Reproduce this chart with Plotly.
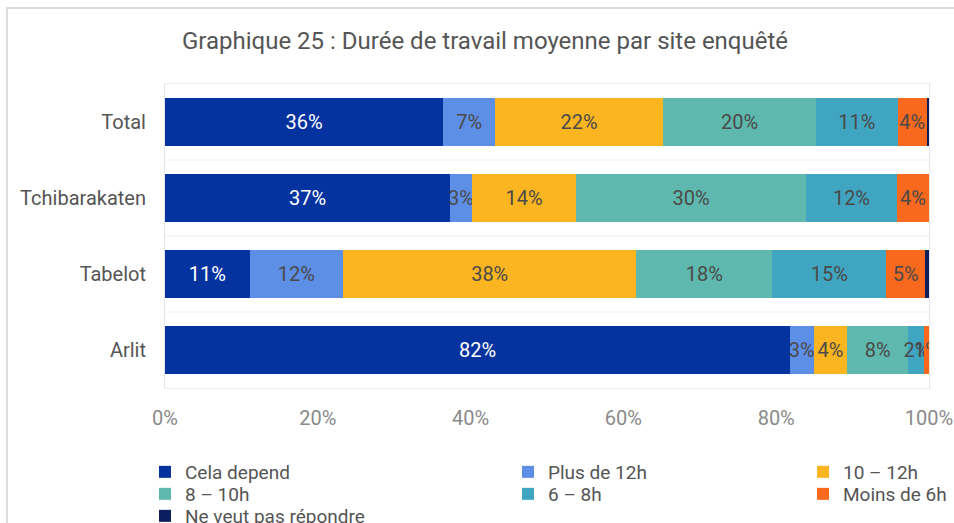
import plotly.graph_objects as go

sites = ["Total", "Tchibarakaten", "Tabelot", "Arlit"]
series_names = ["Cela depend", "Plus de 12h", "10 – 12h", "8 – 10h", "6 – 8h", "Moins de 6h", "Ne veut pas répondre"]

cela_depend = [36.4, 37.3, 11.1, 81.8]
plus_12h = [6.8, 2.9, 12.2, 3.1]
h10_12 = [22.0, 13.6, 38.4, 4.4]
h8_10 = [20.0, 30.1, 17.8, 8.0]
h6_8 = [10.7, 11.9, 14.9, 2.1]
moins_6h = [3.8, 4.2, 5.1, 0.6]
ne_veut_pas = [0.3, 0.0, 0.5, 0.0]

x_ticks = [0, 20, 40, 60, 80, 100]
x_tick_labels = ["0%", "20%", "40%", "60%", "80%", "100%"]

colors = ["#0433a0", "#5e8fe6", "#fbb520", "#5fb8ad", "#40a5c1", "#f8691d", "#0b1f5e"]
text_colors = ["#ffffff", "#4a4a4a", "#4a4a4a", "#4a4a4a", "#4a4a4a", "#4a4a4a", "#ffffff"]

all_values = [cela_depend, plus_12h, h10_12, h8_10, h6_8, moins_6h, ne_veut_pas]

FONT = "Roboto"
W, H = 954, 523
L, R, T, B = 165, 25, 84, 135

# legend slot (pixel) for each series: marker-left x, row centre y
legend_slots = [(159, 472), (522, 472), (817, 472), (159, 494), (522, 494), (817, 494), (159, 516)]

fig = go.Figure()
layout_legends = {}
for i, (name, vals, col, tcol) in enumerate(zip(series_names, all_values, colors, text_colors)):
    labels = [f"{round(v)}%" if v >= 0.55 else "" for v in vals]
    lg = "legend" if i == 0 else f"legend{i+1}"
    fig.add_trace(go.Bar(
        y=sites, x=vals, name=name, orientation="h",
        marker=dict(color=col, line=dict(width=0)),
        text=labels, textposition="inside", insidetextanchor="middle",
        constraintext="none", textangle=0,
        textfont=dict(color=tcol, size=20, family=FONT),
        hoverinfo="x+name", legend=lg,
    ))
    px, py = legend_slots[i]
    layout_legends[lg] = dict(
        xref="container", yref="container",
        x=(px - 14) / W, xanchor="left",
        y=1 - py / H, yanchor="middle",
        bgcolor="rgba(0,0,0,0)", borderwidth=0,
        font=dict(size=19, color="#555555", family=FONT), itemwidth=30,
    )

fig.update_layout(
    barmode="stack",
    bargap=0.38,
    width=W, height=H,
    margin=dict(l=L, r=R, t=T, b=B, autoexpand=False),
    paper_bgcolor="white", plot_bgcolor="white",
    font=dict(family=FONT, color="#555555", size=20),
    title=dict(text="Graphique 25 : Durée de travail moyenne par site enquêté",
               xref="container", yref="container",
               x=485 / W, xanchor="center", y=1 - 41 / H, yanchor="middle",
               font=dict(size=24, color="#555555", family=FONT)),
    xaxis=dict(range=[0, 100], tickvals=x_ticks, ticktext=x_tick_labels,
               showgrid=False, zeroline=False, showline=True, mirror=True, linecolor="#ececec",
               ticks="", tickfont=dict(size=20, color="#8a8a8a"), ticklabelstandoff=12,
               fixedrange=True),
    yaxis=dict(categoryorder="array", categoryarray=sites, autorange="reversed",
               showgrid=False, zeroline=False, showline=True, mirror=True, linecolor="#e6e6e6",
               ticks="", ticklabelstandoff=14, tickfont=dict(size=20, color="#555555")),
    showlegend=True,
    **layout_legends,
)

for yb in [0.5, 1.5, 2.5]:
    fig.add_shape(type="line", xref="paper", yref="y", x0=0, x1=1, y0=yb, y1=yb,
                  line=dict(color="#f0f0f0", width=1))

# outer frame lines of the original screenshot
pw, ph = W - L - R, H - T - B
def px_to_paper_x(v):
    return (v - L) / pw
def px_to_paper_y(v):
    return (H - B - v) / ph
fig.add_shape(type="line", xref="paper", yref="paper",
              x0=px_to_paper_x(6), x1=px_to_paper_x(W), y0=px_to_paper_y(8), y1=px_to_paper_y(8),
              line=dict(color="#dcdcdc", width=2))
fig.add_shape(type="line", xref="paper", yref="paper",
              x0=px_to_paper_x(7), x1=px_to_paper_x(7), y0=px_to_paper_y(8), y1=px_to_paper_y(H),
              line=dict(color="#dcdcdc", width=2))

fig.write_html("out.html", config={"displayModeBar": False},
               post_script="document.body.style.margin='0';")
